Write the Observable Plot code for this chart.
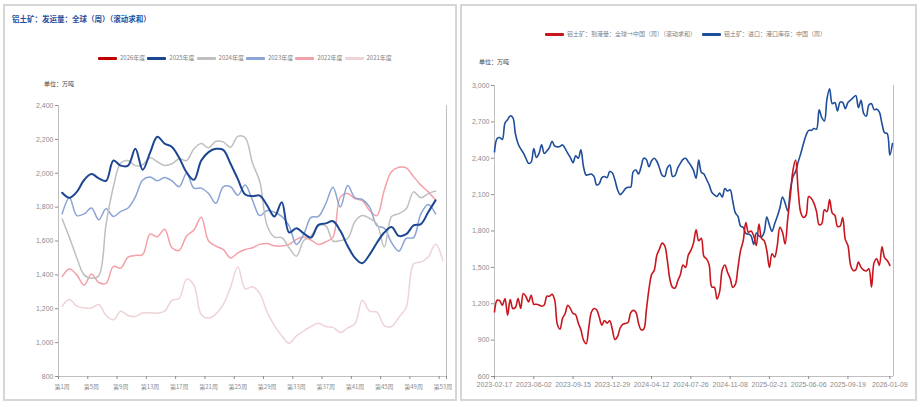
<!DOCTYPE html>
<html><head><meta charset="utf-8">
<script src="https://cdn.jsdelivr.net/npm/d3@7"></script>
<script src="https://cdn.jsdelivr.net/npm/@observablehq/plot@0.6"></script>
<style>
body{margin:0;width:922px;height:407px;background:#fff;position:relative;overflow:hidden;font-family:"Noto Sans CJK SC","Noto Sans",sans-serif;}
.panel{position:absolute;border:2px solid #D6D6D6;box-sizing:border-box;}
.abs{position:absolute;white-space:nowrap;line-height:1;}
.title{font-size:7.5px;font-weight:bold;color:#1F4E9A;}
.leg{display:flex;align-items:center;font-size:6px;color:#808080;}
.sw{display:inline-block;width:19px;height:3px;margin-right:3px;border-radius:1px;}
.unit{font-size:6px;color:#404040;}
.chart{position:absolute;}
.chart svg{overflow:visible;}
</style>
</head><body>
<div class="panel" style="left:3px;top:4px;width:454px;height:397px;"></div>
<div class="panel" style="left:460px;top:4px;width:457px;height:397px;"></div>
<div id="left" class="chart" style="left:0px;top:90px;"></div>
<div id="right" class="chart" style="left:460px;top:75px;"></div>
<script>
// ---------- Left chart data ----------
const leftTitle = "铝土矿：发运量：全球（周）（滚动求和）";
const unitLabel = "单位：万吨";
const seasonNames = ["2026年度","2025年度","2024年度","2023年度","2022年度","2021年度"];
const seasonColors = ["#C00000","#1C4592","#BFBFBF","#8AA4D4","#F4A0A8","#EFD3D6"];
const weekLabelWeeks = [1,5,9,13,17,21,25,29,33,37,41,45,49,53];
const weekLabels = ["第1周","第5周","第9周","第13周","第17周","第21周","第25周","第29周","第33周","第37周","第41周","第45周","第49周","第53周"];
const leftYTicks = [800,1000,1200,1400,1600,1800,2000,2200,2400];

const y2026 = [];
const y2025 = [1885,1855,1890,1960,1995,1970,1955,2075,2045,2045,2145,2020,2120,2215,2175,2155,2090,2005,1961,2075,2125,2144,2138,2056,1965,1875,1865,1868,1810,1745,1829,1650,1675,1645,1620,1695,1704,1717,1660,1570,1500,1469,1520,1590,1650,1682,1630,1640,1692,1700,1770,1840];
const y2024 = [1730,1620,1500,1400,1380,1395,1700,1920,2060,2075,2045,2050,2093,2068,2046,2056,2085,2075,2144,2175,2150,2189,2185,2154,2218,2210,2060,1950,1690,1623,1620,1560,1510,1603,1630,1690,1690,1600,1603,1615,1715,1750,1733,1701,1564,1745,1762,1790,1890,1855,1880,1895];
const y2023 = [1760,1855,1750,1760,1795,1725,1790,1745,1775,1795,1860,1960,1978,1955,1975,1955,1920,2000,1912,1912,1880,1823,1920,1920,1870,1930,1840,1750,1780,1770,1745,1690,1580,1640,1740,1745,1820,1918,1800,1928,1855,1845,1800,1690,1675,1590,1540,1615,1620,1760,1815,1760];
const y2022 = [1390,1435,1400,1340,1405,1355,1350,1450,1440,1505,1515,1520,1640,1625,1670,1560,1545,1630,1665,1740,1600,1570,1550,1500,1530,1550,1560,1580,1585,1572,1570,1580,1610,1623,1605,1580,1595,1623,1859,1880,1850,1839,1780,1750,1900,2010,2035,2032,1980,1930,1890,1843];
const y2021 = [1215,1255,1215,1205,1205,1225,1160,1135,1185,1160,1154,1175,1176,1174,1186,1250,1262,1375,1340,1165,1145,1170,1225,1327,1446,1318,1330,1290,1180,1100,1040,997,1040,1070,1095,1115,1095,1090,1060,1087,1111,1250,1186,1180,1101,1095,1150,1209,1465,1475,1505,1583,1485];

// ---------- Right chart data ----------
const rightNames = ["铝土矿：到港量：全球→中国（周）（滚动求和）","铝土矿：进口：港口库存：中国（周）"];
const rightColors = ["#C8161E","#1F4E9A"];
const startDate = "2023-02-17";
const dateTickLabels = ["2023-02-17","2023-06-02","2023-09-15","2023-12-29","2024-04-12","2024-07-26","2024-11-08","2025-02-21","2025-06-06","2025-09-19","2026-01-09"];
const rightYTicks = [600,900,1200,1500,1800,2100,2400,2700,3000];
const arrivals = [1133,1229,1225,1188,1243,1106,1235,1161,1170,1243,1161,1284,1260,1215,1270,1196,1196,1190,1180,1190,1262,1262,1278,1230,1030,990,1080,1120,1188,1160,1120,1110,1040,985,900,870,1000,1130,1161,1150,1090,1024,1062,1040,1060,990,905,930,1000,1030,1038,1045,1125,1145,1130,1040,985,990,1147,1320,1440,1475,1600,1650,1700,1680,1560,1400,1335,1330,1390,1440,1520,1500,1600,1640,1700,1810,1720,1740,1590,1570,1520,1338,1335,1240,1300,1480,1520,1460,1410,1335,1360,1500,1640,1720,1870,1790,1800,1760,1680,1858,1740,1720,1639,1500,1612,1584,1680,1830,1790,1694,1900,2090,2300,2385,2130,1950,1912,1930,2084,2070,2030,1960,1852,1860,1975,1960,2060,1948,1930,1838,1840,1910,1729,1680,1520,1475,1480,1543,1500,1478,1470,1489,1338,1540,1571,1516,1670,1580,1557,1516];
const portStock = [2453,2563,2571,2555,2690,2718,2749,2735,2600,2520,2478,2445,2400,2358,2368,2481,2407,2440,2510,2440,2460,2490,2540,2500,2494,2497,2510,2480,2440,2405,2363,2420,2400,2470,2330,2262,2265,2270,2250,2180,2190,2240,2250,2240,2290,2280,2220,2140,2100,2120,2150,2161,2161,2290,2303,2270,2330,2400,2390,2330,2380,2400,2375,2320,2260,2250,2320,2344,2250,2260,2320,2358,2390,2400,2370,2340,2300,2235,2385,2285,2270,2225,2180,2120,2098,2085,2112,2080,2150,2130,2140,2045,1950,1920,1840,1830,1780,1775,1760,1690,1784,1760,1750,1790,1915,1850,1797,1860,1920,1990,2080,2030,1965,2139,2248,2290,2370,2440,2520,2590,2630,2630,2645,2640,2800,2735,2708,2891,2973,2850,2860,2790,2863,2860,2809,2860,2880,2900,2918,2817,2877,2770,2746,2840,2850,2800,2805,2780,2686,2610,2604,2426,2522];

// ---------- HTML text (title, legends, units) ----------
function addText(cls, text, left, top, extra) {
  const d = document.createElement("div");
  d.className = "abs " + cls;
  d.textContent = text;
  d.style.left = left + "px"; d.style.top = top + "px";
  if (extra) Object.assign(d.style, extra);
  document.body.appendChild(d);
  return d;
}
function addLegendItem(name, color, left, top) {
  const d = document.createElement("div");
  d.className = "abs leg";
  d.style.left = left + "px"; d.style.top = top + "px";
  const s = document.createElement("span"); s.className = "sw"; s.style.background = color;
  const t = document.createElement("span"); t.textContent = name;
  d.appendChild(s); d.appendChild(t);
  document.body.appendChild(d);
}
addText("title", leftTitle, 12, 15);
seasonNames.forEach((n, i) => addLegendItem(n, seasonColors[i], 98 + i * 49.3, 55));
addText("unit", unitLabel, 44, 81);
addLegendItem(rightNames[0], rightColors[0], 545, 31);
addLegendItem(rightNames[1], rightColors[1], 702, 31);
addText("unit", unitLabel, 479, 59);

// ---------- Left chart ----------
const seasonArrays = [y2026, y2025, y2024, y2023, y2022, y2021];
const leftRows = [];
seasonArrays.forEach((arr, i) => arr.forEach((v, k) => leftRows.push({week: k + 1, value: v, season: seasonNames[i], order: i})));
const drawOrder = [5, 4, 3, 2, 1, 0];
const tickFont = {fontFamily: '"Liberation Sans Narrow","Liberation Sans",Arial,sans-serif', fontSize: 7};
const boundaries = weekLabelWeeks.map(w => w - 0.5);

const leftPlot = Plot.plot({
  width: 460, height: 310,
  marginLeft: 58, marginRight: 14, marginTop: 15, marginBottom: 24,
  style: {background: "transparent", ...tickFont, color: "#8C8C8C"},
  x: {domain: [0.5, 53.5]},
  y: {domain: [800, 2400]},
  marks: [
    Plot.ruleX([0.5, 53.5], {stroke: "#BFBFBF", strokeWidth: 1}),
    Plot.ruleY([800], {stroke: "#BFBFBF", strokeWidth: 1}),
    Plot.axisY({ticks: leftYTicks, tickSize: 3, tickPadding: 2, tickFormat: d3.format(","), stroke: "#8C8C8C", fill: "#8C8C8C", label: null}),
    Plot.axisX({ticks: [...boundaries, 53.5], tickSize: 3, tickFormat: () => "", stroke: "#8C8C8C", label: null}),
    Plot.axisX({ticks: weekLabelWeeks, tickSize: 0, tickPadding: 8, tickFormat: (d) => weekLabels[weekLabelWeeks.indexOf(d)], fill: "#8C8C8C", fontSize: 6, fontFamily: '"Noto Sans CJK SC",sans-serif', label: null}),
    ...drawOrder.map(i => Plot.line(leftRows.filter(r => r.order === i), {
      x: "week", y: "value", stroke: seasonColors[i], strokeWidth: i === 1 ? 2 : 1.5, curve: "catmull-rom"
    }))
  ]
});
document.getElementById("left").appendChild(leftPlot);

// ---------- Right chart ----------
const t0 = new Date(startDate + "T00:00:00Z");
const weekDate = (w) => new Date(t0.getTime() + w * 7 * 86400000);
const rightRows = [];
arrivals.forEach((v, k) => rightRows.push({date: weekDate(k), value: v, s: 0}));
portStock.forEach((v, k) => rightRows.push({date: weekDate(k), value: v, s: 1}));
const dateTicks = dateTickLabels.map(s => new Date(s + "T00:00:00Z"));
const xEnd = weekDate(152.4);

const rightPlot = Plot.plot({
  width: 462, height: 325,
  marginLeft: 34, marginRight: 29, marginTop: 10, marginBottom: 24,
  style: {background: "transparent", ...tickFont, color: "#8C8C8C"},
  x: {type: "utc", domain: [t0, xEnd]},
  y: {domain: [600, 3000]},
  marks: [
    Plot.ruleX([t0, xEnd], {stroke: "#BFBFBF", strokeWidth: 1}),
    Plot.ruleY([600], {stroke: "#BFBFBF", strokeWidth: 1}),
    Plot.axisY({ticks: rightYTicks, tickSize: 3, tickPadding: 2, tickFormat: d3.format(","), stroke: "#8C8C8C", fill: "#8C8C8C", label: null}),
    Plot.axisX({ticks: dateTicks, tickSize: 3, tickPadding: 3, tickFormat: (d) => dateTickLabels[dateTicks.findIndex(t => +t === +d)], stroke: "#8C8C8C", fill: "#8C8C8C", label: null}),
    Plot.line(rightRows.filter(r => r.s === 1), {x: "date", y: "value", stroke: rightColors[1], strokeWidth: 1.6, curve: "catmull-rom"}),
    Plot.line(rightRows.filter(r => r.s === 0), {x: "date", y: "value", stroke: rightColors[0], strokeWidth: 1.6, curve: "catmull-rom"})
  ]
});
document.getElementById("right").appendChild(rightPlot);
</script>
</body></html>
